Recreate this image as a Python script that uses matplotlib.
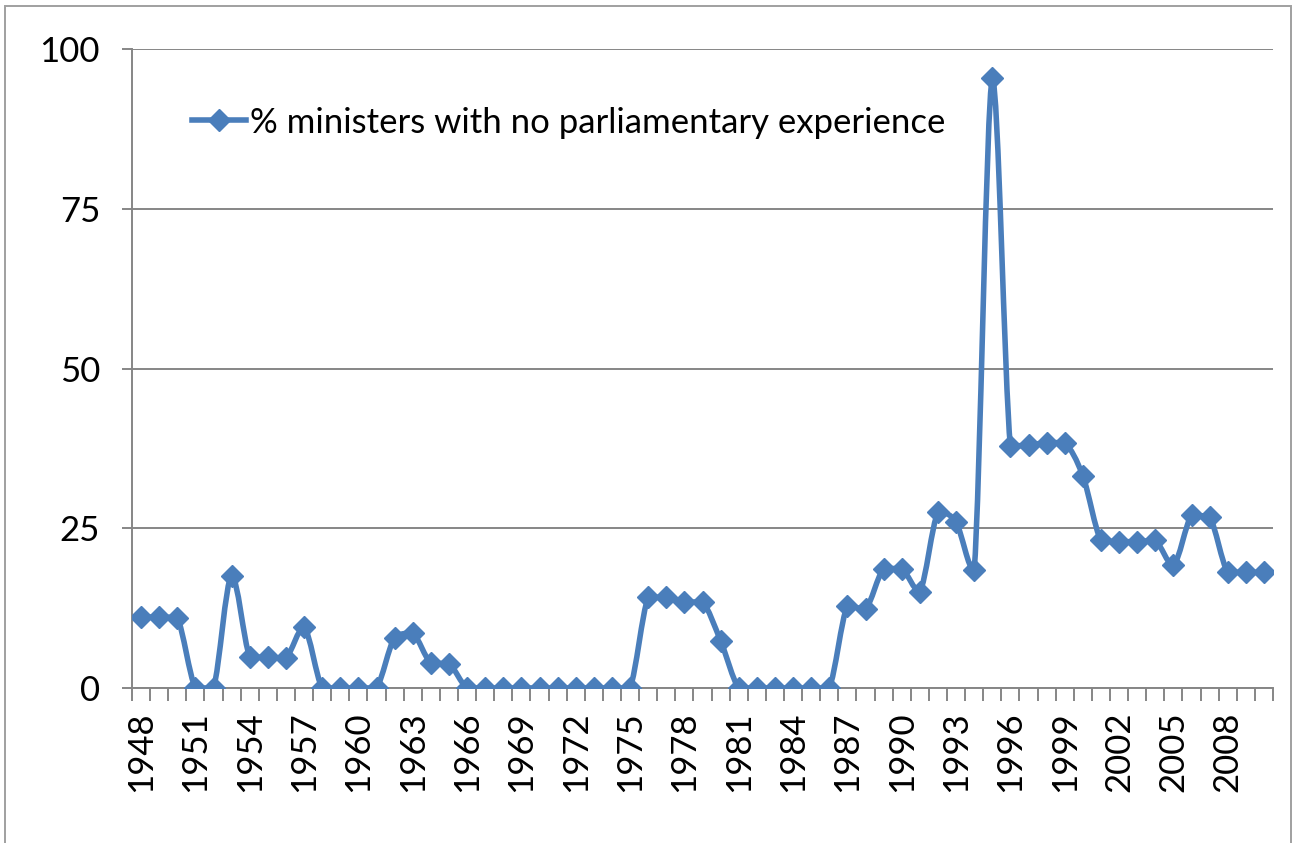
import matplotlib
matplotlib.use('Agg')
import matplotlib.pyplot as plt
import numpy as np
from matplotlib.path import Path
from matplotlib.patches import PathPatch, Rectangle
from matplotlib.lines import Line2D

plt.rcParams['font.family'] = ['Lato', 'DejaVu Sans']

# Data
years = list(range(1948, 2011))
pct_no_experience = [
    11.1, 11.1, 11.0, 0, 0, 17.6, 4.9, 4.8, 4.7, 9.5,      # 1948-1957
    0, 0, 0, 0, 7.9, 8.6, 3.9, 3.8, 0, 0,                  # 1958-1967
    0, 0, 0, 0, 0, 0, 0, 0, 14.2, 14.2,                    # 1968-1977
    13.4, 13.5, 7.4, 0, 0, 0, 0, 0, 0, 12.9,               # 1978-1987
    12.3, 18.7, 18.7, 15.1, 27.5, 25.9, 18.4, 95.4, 37.9, 38.0,  # 1988-1997
    38.4, 38.4, 33.2, 23.1, 22.9, 22.9, 23.1, 19.2, 27.0, 26.8,  # 1998-2007
    18.1, 18.1, 18.1,                                      # 2008-2010
]
series_label = "% ministers with no parliamentary experience"
y_ticks = [0, 25, 50, 75, 100]

blue = '#4A7EBB'
grey = '#868686'

W, H = 1295, 843
fig = plt.figure(figsize=(W / 100, H / 100), dpi=100)
ax = fig.add_axes([132 / W, 155 / H, (1273 - 132) / W, (688 - 49) / H])

xs = np.arange(len(years))
ys = np.array(pct_no_experience, dtype=float)
n = len(xs)

# smoothed line: catmull-rom style bezier, handles clamped to each segment's
# y-range so the curve never overshoots
verts = [(xs[0], ys[0])]
codes = [Path.MOVETO]
for i in range(n - 1):
    a, b = max(i - 1, 0), min(i + 2, n - 1)
    lo, hi = min(ys[i], ys[i + 1]), max(ys[i], ys[i + 1])
    c1x = xs[i] + (xs[i + 1] - xs[a]) / 6.0
    c1y = np.clip(ys[i] + (ys[i + 1] - ys[a]) / 6.0, lo, hi)
    c2x = xs[i + 1] - (xs[b] - xs[i]) / 6.0
    c2y = np.clip(ys[i + 1] - (ys[b] - ys[i]) / 6.0, lo, hi)
    verts += [(c1x, c1y), (c2x, c2y), (xs[i + 1], ys[i + 1])]
    codes += [Path.CURVE4] * 3
ax.add_patch(PathPatch(Path(verts, codes), facecolor='none', edgecolor=blue,
                       lw=4, capstyle='round', joinstyle='round', zorder=3))
ax.plot(xs, ys, linestyle='none', marker='D', ms=11.5, color=blue, zorder=4)

ax.set_xlim(-0.5, n - 0.5)
ax.set_ylim(0, 100)

ax.set_yticks(y_ticks)
ax.set_yticklabels([str(t) for t in y_ticks])
ax.yaxis.grid(True, color=grey, lw=1.4)
ax.set_axisbelow(True)
ax.tick_params(axis='y', length=7.5, width=1.4, color=grey, pad=15.5, labelsize=25)

major = xs[::3]
ax.set_xticks(major)
ax.set_xticklabels([str(years[i]) for i in major], rotation=90)
ax.set_xticks(np.arange(-0.5, n, 1.0), minor=True)
ax.tick_params(axis='x', which='major', length=0, pad=17, labelsize=25)
ax.tick_params(axis='x', which='minor', length=9, width=1.4, color=grey)

for side in ['top', 'right']:
    ax.spines[side].set_visible(False)
for side in ['left', 'bottom']:
    ax.spines[side].set_color(grey)
    ax.spines[side].set_linewidth(1.4)

handle = Line2D([], [], color=blue, lw=4, marker='D', ms=11.5)
ax.legend([handle], [series_label], loc='upper left', bbox_to_anchor=(0.0526, 0.91),
          frameon=False, fontsize=25, handlelength=1.55, handletextpad=0.12,
          borderaxespad=0, borderpad=0)

# outer chart border
fig.patches.append(Rectangle((5 / W, -0.05), (1291 - 5) / W, 1.05 - 6 / H,
                             transform=fig.transFigure, fill=False,
                             edgecolor='#A0A0A0', lw=1.4))

fig.savefig('out.png', dpi=100)
